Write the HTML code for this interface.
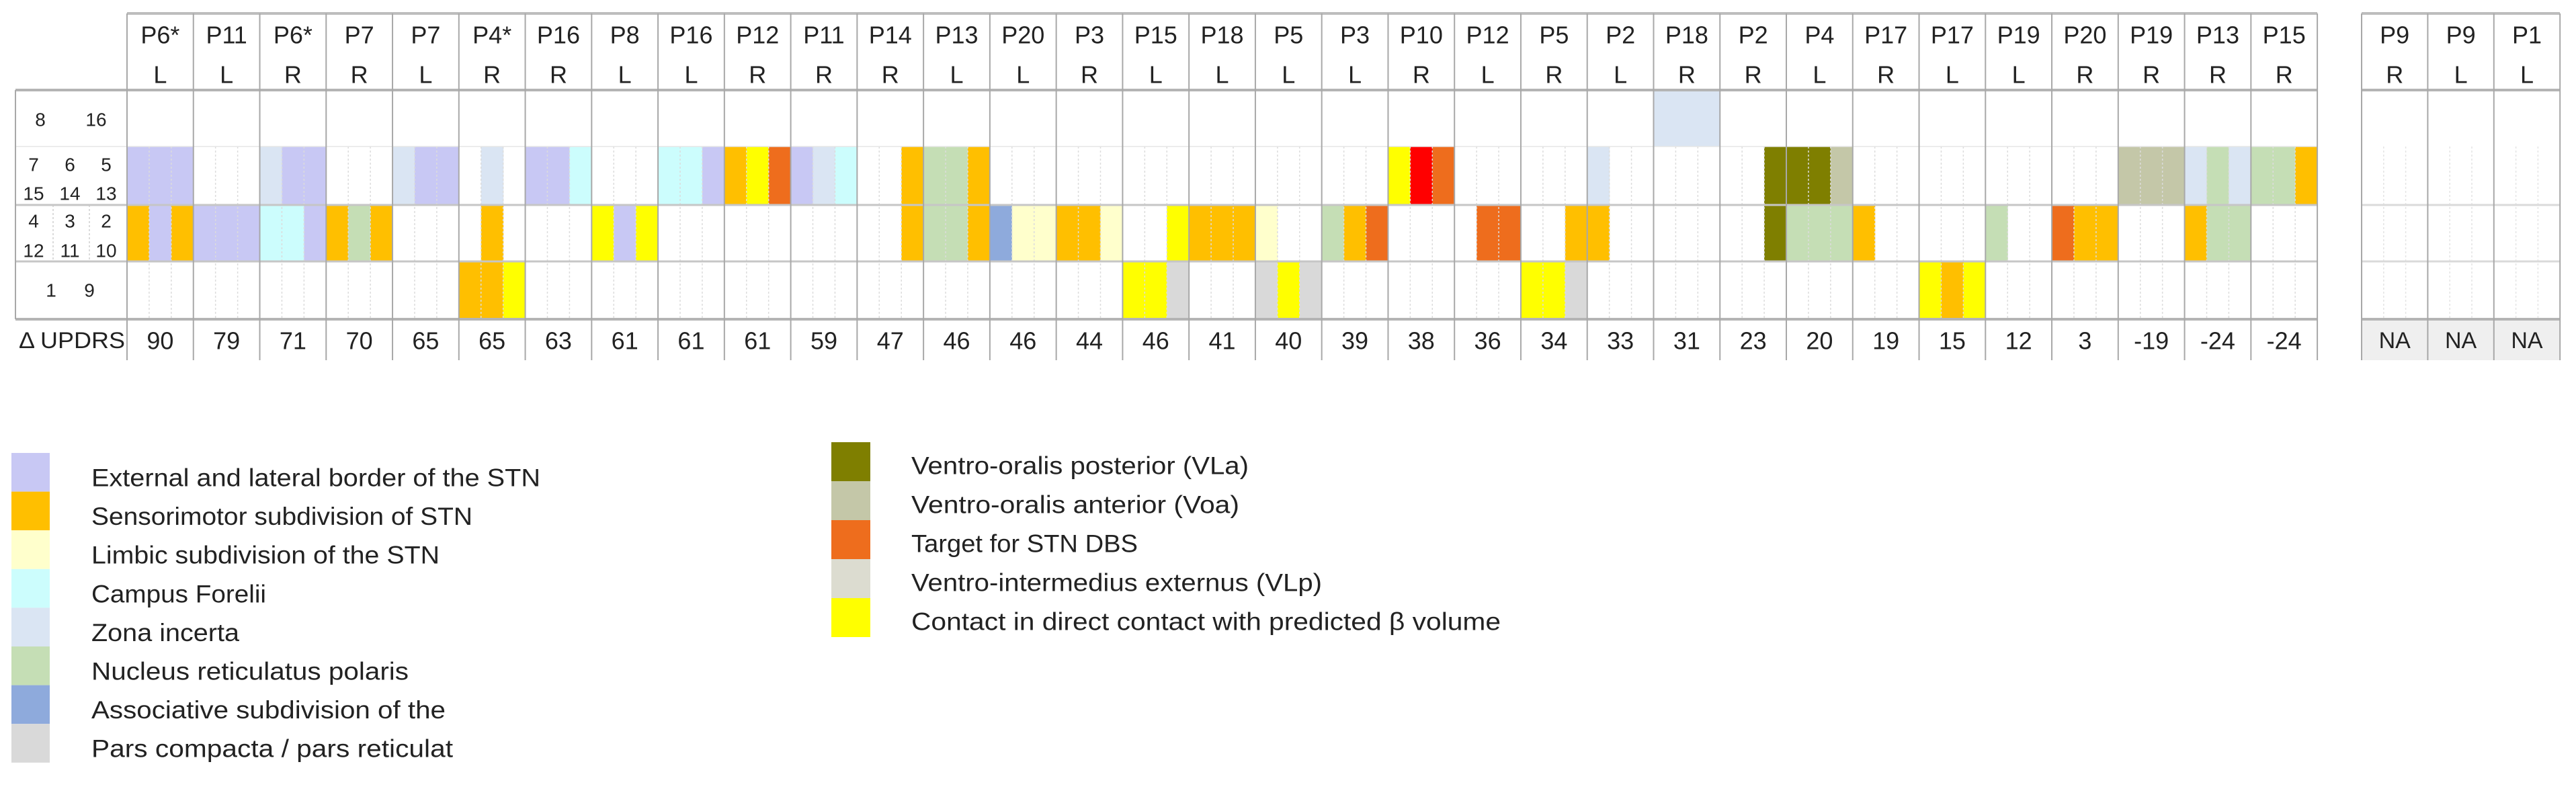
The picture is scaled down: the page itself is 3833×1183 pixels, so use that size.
<!DOCTYPE html>
<html><head><meta charset="utf-8"><style>
html,body{margin:0;padding:0;background:#fff;}
svg{display:block;font-family:"Liberation Sans",Arial,sans-serif;}
</style></head><body>
<svg id="chart" width="3833" height="1183" viewBox="0 0 3833 1183" xmlns="http://www.w3.org/2000/svg">
<g id="cells"></g>
<g id="grid"></g>
<g id="texts"></g>
<g id="legend"></g>
</svg>
<script>
const patients = ["P6*","P11","P6*","P7","P7","P4*","P16","P8","P16","P12","P11","P14","P13","P20","P3","P15","P18","P5","P3","P10","P12","P5","P2","P18","P2","P4","P17","P17","P19","P20","P19","P13","P15"];
const sides = ["L","L","R","R","L","R","R","L","L","R","R","R","L","L","R","L","L","L","L","R","L","R","L","R","R","L","R","L","L","R","R","R","R"];
const updrs = [90,79,71,70,65,65,63,61,61,61,59,47,46,46,44,46,41,40,39,38,36,34,33,31,23,20,19,15,12,3,-19,-24,-24];
const naPatients = ["P9","P9","P1"];
const naSides = ["R","L","L"];
const row1 = ["...","...","...","...","...","...","...","...","...","...","...","...","...","...","...","...","...","...","...","...","...","...","...","ZZZ","...","...","...","...","...","...","...","...","..."];
const row2 = ["LLL","...","ZLL","...","ZLL",".Z.","LLC","...","CCL","OBT","LZC","..O","NNO","...","...","...","...","...","...","BRT","...","...","Z..","...","..V","VVW","...","...","...","...","WWW","ZNZ","NNO"];
const row3 = ["OLO","LLL","CCL","ONO","...",".O.","...","BLB","...","...","...","..O","NNO","AYY","OOY","..B","OOO","Y..","NOT","...",".TT","..O","O..","...","..V","NNN","O..","...","N..","TOO","...","ONN","..."];
const row4 = ["...","...","...","...","...","OOB","...","...","...","...","...","...","...","...","...","BBP","...","PBP","...","...","...","BBP","...","...","...","...","...","BOB","...","...","...","...","..."];
const legendLeft = ["External and lateral border of the STN","Sensorimotor subdivision of STN","Limbic subdivision of the STN","Campus Forelii","Zona incerta","Nucleus reticulatus polaris","Associative subdivision of the","Pars compacta / pars reticulat"];
const legendLeftCodes = ["L","O","Y","C","Z","N","A","P"];
const legendRight = ["Ventro-oralis posterior (VLa)","Ventro-oralis anterior (Voa)","Target for STN DBS","Ventro-intermedius externus (VLp)","Contact in direct contact with predicted \u03b2 volume"];
const legendRightCodes = ["V","W","T","X","B"];

const COLORS = {L:"#c8c8f4",O:"#ffbf00",Y:"#ffffcc",C:"#ccfdfd",Z:"#dae5f3",N:"#c5deb5",A:"#8eaadc",P:"#d9d9d9",V:"#7f7f00",W:"#c4c7a8",T:"#ee6d1d",X:"#dcdcd0",B:"#ffff00",R:"#ff0000"};
const LW = {L:668,O:567,Y:518,C:260,Z:220,N:472,A:527,P:538};
const RW = [502,488,337,611,877];
const NS="http://www.w3.org/2000/svg";
const X0=189, CW=98.76, NAX0=3514, NAW=98.4;
const TOP=20, HB=134, ROWS=[134,218,305,389,475], BOT=536;
const colX = i => X0 + i*CW;
const naX = i => NAX0 + i*NAW;
function el(tag, attrs, parent){const e=document.createElementNS(NS,tag);for(const k in attrs)e.setAttribute(k,attrs[k]);parent.appendChild(e);return e;}
const cells=document.getElementById('cells'), grid=document.getElementById('grid'), texts=document.getElementById('texts'), legend=document.getElementById('legend');

[row1,row2,row3,row4].forEach((row,r)=>{
  row.forEach((s,i)=>{
    for(let k=0;k<3;k++){
      const c=s[k]; if(c==='.') continue;
      const x=colX(i)+k*CW/3;
      const rc=el('rect',{x:x,y:ROWS[r],width:CW/3+0.6,height:ROWS[r+1]-ROWS[r],fill:COLORS[c]},cells);
      
      
    }
  });
});
// NA updrs background
for(let i=0;i<3;i++){
  const r=el('rect',{x:naX(i),y:ROWS[4],width:NAW,height:BOT-ROWS[4],fill:"#efefef"},cells);
  
  
}
// sub-column faint lines
for(let i=0;i<patients.length;i++){for(let k=1;k<3;k++){el('line',{x1:colX(i)+k*CW/3,y1:ROWS[1],x2:colX(i)+k*CW/3,y2:ROWS[4],stroke:"#dcdcdc","stroke-width":1.5,"stroke-dasharray":"3,3"},grid);}}
for(let i=0;i<3;i++){for(let k=1;k<3;k++){el('line',{x1:naX(i)+k*NAW/3,y1:ROWS[1],x2:naX(i)+k*NAW/3,y2:ROWS[4],stroke:"#e4e4e4","stroke-width":1.5,"stroke-dasharray":"3,3"},grid);}}
// label sub lines
[79,133].forEach(x=>el('line',{x1:x,y1:ROWS[2],x2:x,y2:ROWS[4]-86,stroke:"#cfcfcf","stroke-width":1.5,"stroke-dasharray":"3,3"},grid));
// inner row separators
[ROWS[2],ROWS[3]].forEach(y=>{
  el('line',{x1:23,y1:y,x2:3448,y2:y,stroke:"#c6c6c6","stroke-width":3},grid);
  el('line',{x1:NAX0,y1:y,x2:3809,y2:y,stroke:"#dadada","stroke-width":3},grid);
});
el('line',{x1:23,y1:ROWS[1],x2:3448,y2:ROWS[1],stroke:"#e6e6e6","stroke-width":1.5},grid);
// thick lines
el('line',{x1:X0,y1:TOP,x2:3448,y2:TOP,stroke:"#bdbdbd","stroke-width":4},grid);
el('line',{x1:NAX0,y1:TOP,x2:3809,y2:TOP,stroke:"#bdbdbd","stroke-width":4},grid);
[HB,ROWS[4]].forEach(y=>{
  el('line',{x1:23,y1:y,x2:3448,y2:y,stroke:"#b4b4b4","stroke-width":4},grid);
  el('line',{x1:NAX0,y1:y,x2:3809,y2:y,stroke:"#b4b4b4","stroke-width":4},grid);
});
// vertical lines
el('line',{x1:23,y1:HB,x2:23,y2:ROWS[4],stroke:"#a8a8a8","stroke-width":2},grid);
for(let i=0;i<=patients.length;i++){el('line',{x1:colX(i),y1:TOP,x2:colX(i),y2:BOT,stroke:"#a8a8a8","stroke-width":2},grid);}
for(let i=0;i<=3;i++){el('line',{x1:naX(i),y1:TOP,x2:naX(i),y2:BOT,stroke:"#a8a8a8","stroke-width":2},grid);}

function txt(s,x,y,size,anchor,parent,name){
  const t=el('text',{x:x,y:y,"font-size":size,"text-anchor":anchor||"middle",fill:"#222","dominant-baseline":"central"},parent);
  t.textContent=s;
  
  
  return t;
}
patients.forEach((p,i)=>{
  const cx=colX(i)+CW/2;
  txt(p,cx,52,36,"middle",texts,'patient-label');
  txt(sides[i],cx,111,36,"middle",texts,'side-label');
  txt(String(updrs[i]),cx,507,36,"middle",texts,'updrs-value');
});
naPatients.forEach((p,i)=>{
  const cx=naX(i)+NAW/2;
  txt(p,cx,52,36,"middle",texts,'na-patient-label');
  txt(naSides[i],cx,111,36,"middle",texts,'na-side-label');
  txt("NA",cx,507,34,"middle",texts,'na-updrs-value');
});
// contact labels
[["8",60,178],["16",143,178],["7",50,245],["6",104,245],["5",158,245],["15",50,288],["14",104,288],["13",158,288],["4",50,329],["3",104,329],["2",158,329],["12",50,373],["11",104,373],["10",158,373],["1",76,432],["9",133,432]].forEach(a=>txt(a[0],a[1],a[2],28,"middle",texts,'contact-number'));
const up=txt("\u0394 UPDRS",28,507,34,"start",texts,'updrs-row-title');
up.setAttribute('textLength',158); up.setAttribute('lengthAdjust','spacingAndGlyphs');

// legend
legendLeft.forEach((s,i)=>{
  const y=674+i*57.6;
  const r=el('rect',{x:17,y:y,width:57,height:57.6,fill:COLORS[legendLeftCodes[i]]},legend);
  
  
  const t=txt(s,136,y+37,37,"start",legend,'legend-entry');
  t.setAttribute('textLength',LW[legendLeftCodes[i]]); t.setAttribute('lengthAdjust','spacingAndGlyphs');
});
legendRight.forEach((s,i)=>{
  const y=658+i*58;
  const r=el('rect',{x:1237,y:y,width:58,height:58,fill:COLORS[legendRightCodes[i]]},legend);
  
  
  const t=txt(s,1356,y+35,37,"start",legend,'legend-entry');
  t.setAttribute('textLength',RW[i]); t.setAttribute('lengthAdjust','spacingAndGlyphs');
});
</script>
</body></html>
